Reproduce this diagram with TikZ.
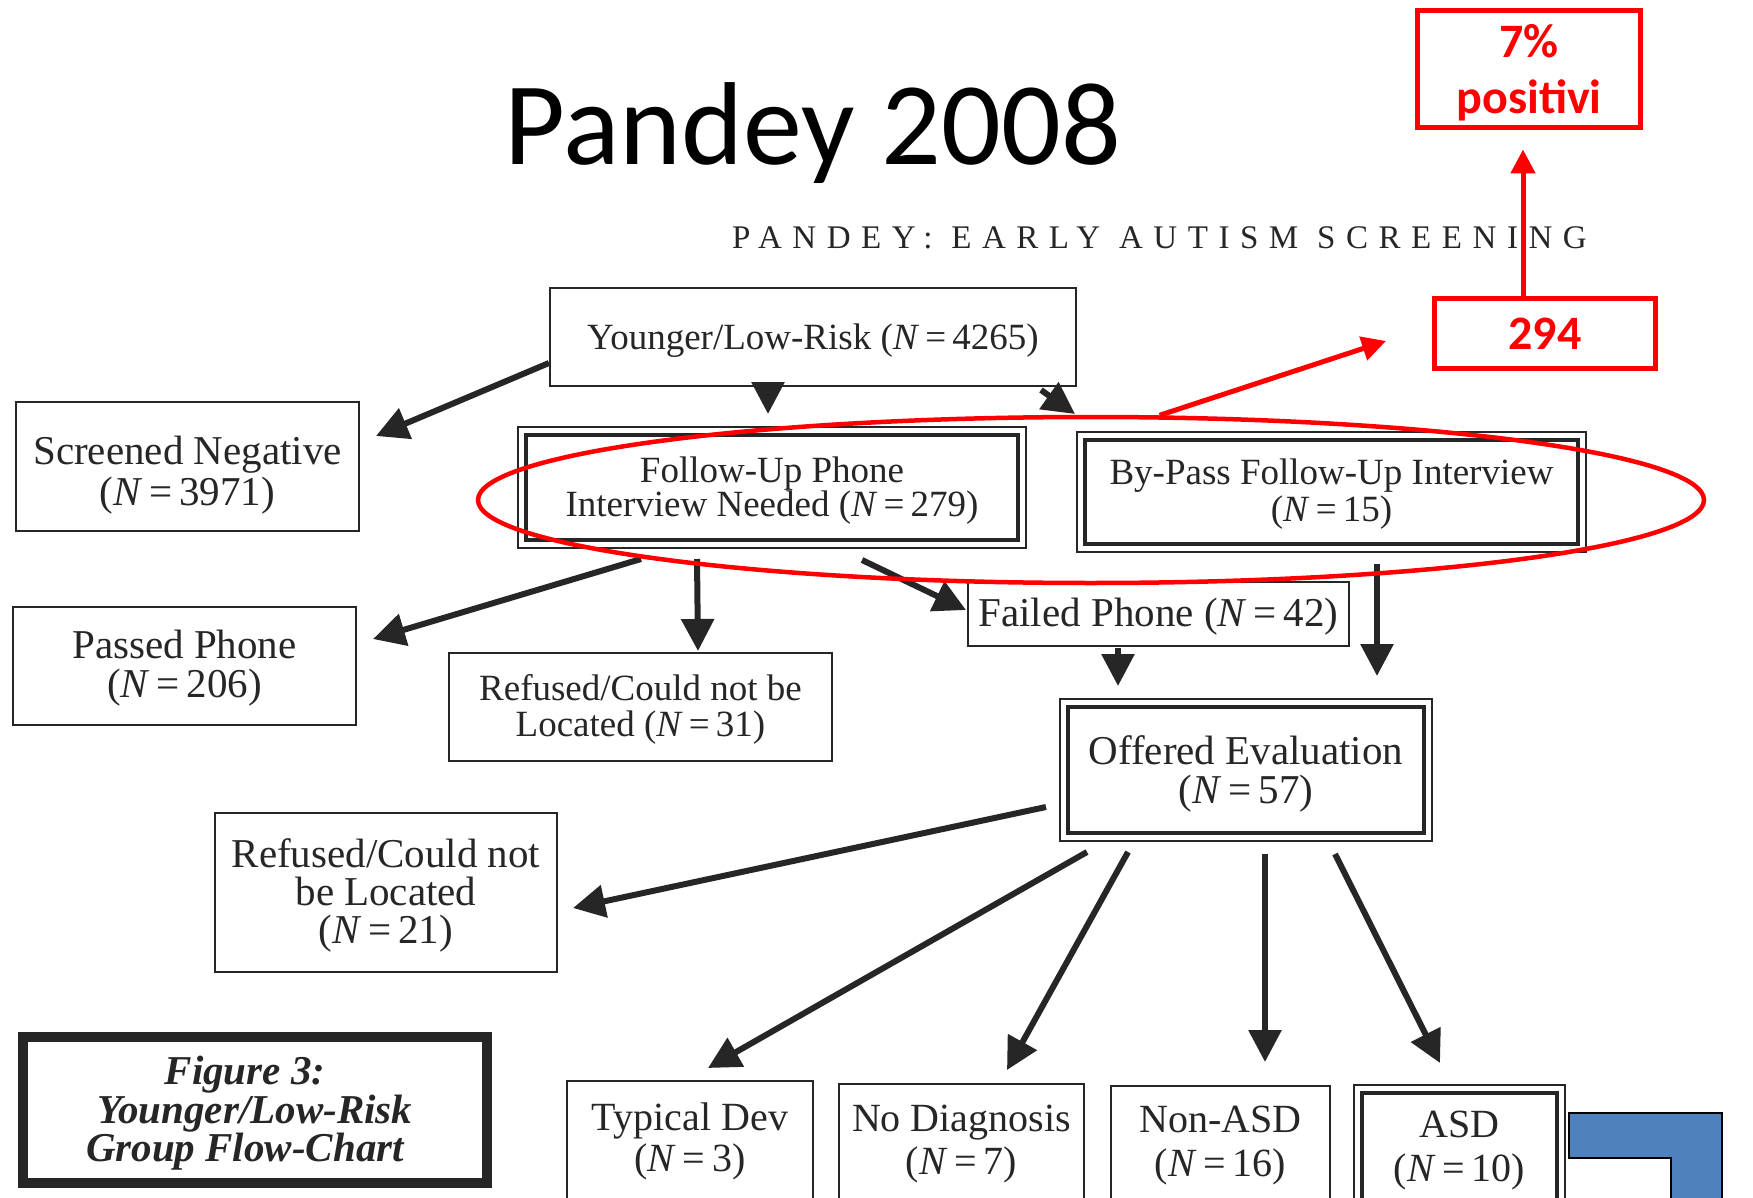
\documentclass[tikz,border=0pt]{standalone}
\usepackage{fontspec}
\setmainfont{Liberation Serif}
\newfontfamily\calibri{Carlito}
\usetikzlibrary{arrows.meta,calc,shapes.geometric}

\definecolor{ink}{HTML}{262626}
\definecolor{redmark}{HTML}{FF0000}
\definecolor{officeblue}{HTML}{4F81BD}

\newcommand{\fs}[2]{\fontsize{#1}{#2}\selectfont}
\newcommand{\NN}[1]{(\textit{N}\,=\,#1)}
% tall first-line strut: lowers a text block inside its box
\newcommand{\lift}[1]{\rule{0pt}{#1pt}}

\begin{document}
\begin{tikzpicture}[x=1pt,y=-1pt,
  box/.style={draw=ink, line width=2pt, inner sep=0pt, align=center, text=ink, font=\fs{37}{36}},
  big/.style={font=\fs{41}{39}},
  dblbox/.style={box, line width=4pt},
  lower/.style={execute at begin node={\lift{#1}}},
  outframe/.style={draw=ink, line width=1.6pt},
  flow/.style={draw=ink, line width=6pt, -{Triangle[length=32pt,width=32pt]}},
  redbox/.style={draw=redmark, line width=5pt, inner sep=0pt, align=center, text=redmark, font=\calibri\bfseries\fs{48}{56}},
  redarrow/.style={draw=redmark, line width=5pt, -{Triangle[length=24pt,width=24pt]}}
]
\useasboundingbox (0,0) rectangle (1753,1198);
\clip (0,0) rectangle (1753,1198);
\fill[white] (0,0) rectangle (1753,1198);

% headings
\node[anchor=base, inner sep=0pt, font=\calibri\fs{118}{118}] (title) at (813,165) {Pandey 2008};
\node[anchor=base west, inner sep=0pt, text=ink, font=\fs{33}{33}\addfontfeature{LetterSpace=32}] (hdr) at (732,249) {PANDEY: EARLY AUTISM SCREENING};

% flow-chart boxes
\node[box, lower=33, minimum width=526pt, minimum height=98pt] (yl) at (813,337) {Younger/Low-Risk \NN{4265}};
\node[box, minimum width=343pt, minimum height=129pt, font=\fs{41}{41}] (sn) at (187.5,466.5) {\lift{46}Screened Negative\\\NN{3971}};
\node[dblbox, minimum width=492pt, minimum height=105pt, font=\fs{37}{34}] (fu) at (772,487.5) {\lift{32}Follow-Up Phone\\Interview Needed \NN{279}};
\node[dblbox, minimum width=493pt, minimum height=104pt, font=\fs{37}{37}] (bp) at (1331.5,492) {\lift{30}By-Pass Follow-Up Interview\\\NN{15}};
\node[box, big, minimum width=343pt, minimum height=118pt] (pp) at (184.5,666) {\lift{32.5}Passed Phone\\\NN{206}};
\node[box, minimum width=383pt, minimum height=108pt] (r31) at (640.5,707) {\lift{30}Refused/Could not be\\Located \NN{31}};
\node[box, big, lower=33, minimum width=381pt, minimum height=64pt] (fp) at (1158.5,614) {Failed Phone \NN{42}};
\node[dblbox, big, minimum width=356pt, minimum height=126pt] (off) at (1246,770) {\lift{37.5}Offered Evaluation\\\NN{57}};
\node[box, minimum width=342pt, minimum height=159pt, font=\fs{41}{38}] (r21) at (386,892.5) {\lift{35.5}Refused/Could not\\be Located\\\NN{21}};
\node[box, line width=10pt, minimum width=464pt, minimum height=146pt, font=\bfseries\itshape\fs{41}{38.5}] (fig) at (255,1110)
  {\lift{35.5}Figure 3:\hspace*{20pt}\\Younger/Low-Risk\hspace*{20pt}\\Group Flow-Chart\hspace*{20pt}};

% outcome boxes along the lower edge
\node[box, anchor=north, minimum width=246pt, minimum height=120pt, font=\fs{40}{41}] (td) at (690,1080) {Typical Dev\\\NN{3}};
\node[box, anchor=north, minimum width=245pt, minimum height=120pt, font=\fs{40}{43}] (nd) at (961.5,1083) {No Diagnosis\\\NN{7}};
\node[box, anchor=north, minimum width=219pt, minimum height=120pt, font=\fs{40}{44}] (na) at (1220.5,1085) {Non-ASD\\\NN{16}};
\node[dblbox, anchor=north, minimum width=195pt, minimum height=115pt, font=\fs{40}{44}] (asd) at (1459.5,1091) {ASD\\\NN{10}};

% thin outer frame of the double-ruled boxes
\foreach \n in {fu,bp,off,asd}
  \draw[outframe] ($(\n.north west)+(-6,-6)$) rectangle ($(\n.south east)+(6,6)$);

% connectors
\draw[flow] ($(yl.west)+(0,26)$) -- ($(sn.east)+(16,-30.5)$);
\draw[flow] ($(yl.south)+(-45,1)$) -- ($(fu.north)+(-4,-19)$);
\draw[flow] ($(yl.south east)+(-36,3)$) -- ($(bp.north west)+(-8,-24)$);
\draw[flow] ($(fu.south)+(-131,17)$) -- ($(pp.east)+(16,-27)$);
\draw[flow] ($(fu.south)+(-75,17)$) -- ($(r31.north)+(57.5,-1)$);
\draw[flow] ($(fu.south)+(90,18)$) -- ($(fp.west)+(-1,-4)$);
\draw[flow] ($(bp.south)+(45.5,18)$) -- ($(off.north)+(131,-29)$);
\draw[flow] ($(fp.south)+(-40.5,1)$) -- ($(off.north)+(-128,-19)$);
\draw[flow] ($(off.west)+(-20,37)$) -- ($(r21.east)+(15,15.5)$);
\draw[flow] ($(off.south)+(-159,17)$) -- ($(td.north)+(18,-12)$);
\draw[flow] ($(off.south)+(-118,17)$) -- ($(nd.north)+(45.5,-13)$);
\draw[flow] ($(off.south)+(19,19)$) -- ($(na.north)+(44.5,-23)$);
\draw[flow] ($(off.south)+(89,19)$) -- ($(asd.north)+(-19.5,-28)$);

% red annotations
\node[draw=redmark, line width=4.5pt, ellipse, inner sep=0pt, minimum width=1226pt, minimum height=166pt] (ell) at (1091,500) {};
\node[redbox, minimum width=223pt, minimum height=117pt] (pos) at (1529,69) {\lift{40}7\%\\positivi};
\node[redbox, minimum width=221pt, minimum height=70pt] (r294) at (1545,333.5) {294};
\coordinate (tip294) at (1386,341);
\draw[redarrow] (ell.51) -- (tip294);
\draw[redarrow] ([xshift=-22pt]r294.north) -- ([xshift=-6pt,yshift=-19.5pt]pos.south);

% blue corner shape
\filldraw[fill=officeblue, draw=black, line width=2pt]
  (1569,1113) -- (1722,1113) -- (1722,1215) -- (1671,1215) -- (1671,1158) -- (1569,1158) -- cycle;
\end{tikzpicture}
\end{document}
